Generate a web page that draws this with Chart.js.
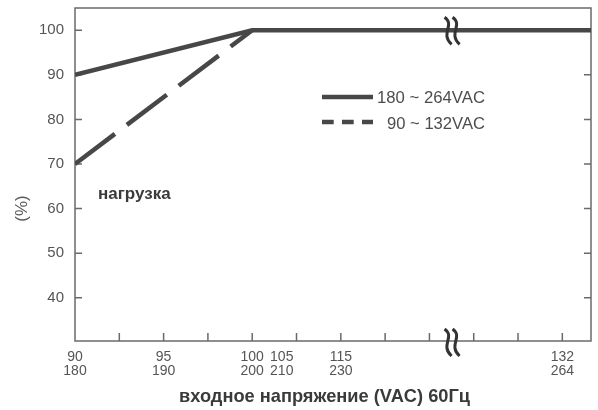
<!DOCTYPE html>
<html>
<head>
<meta charset="utf-8">
<script src="https://cdn.jsdelivr.net/npm/chart.js@4.4.1/dist/chart.umd.min.js"></script>
<style>
  html, body { margin: 0; padding: 0; background: #fff; }
  #wrap { width: 598px; height: 410px; }
</style>
</head>
<body>
<div id="wrap"><canvas id="chart" width="598" height="410"></canvas></div>
<script>
// broken x axis: volts -> position in tick steps
const axisVolts = [90, 95, 100, 115, 132];
const axisSteps = [0, 2, 4, 6, 11];
const xEndVolt = 134.2;
const breakVolt = 123.5;
const tickMarkSteps = [1, 2, 3, 4, 5, 6, 7, 8, 9, 10, 11];

const labelVolts = [90, 95, 100, 105, 115, 132];
const labelsLow = ['90', '95', '100', '105', '115', '132'];
const labelsHigh = ['180', '190', '200', '210', '230', '264'];
const yTicks = [40, 50, 60, 70, 80, 90, 100];

// derating curves
const highVolts = [90, 100, xEndVolt];
const highLoad = [90, 100, 100];
const lowVolts = [90, 100];
const lowLoad = [70, 100];

const voltPos = (v) => {
  let i = 0;
  while (i < axisVolts.length - 2 && v > axisVolts[i + 1]) i += 1;
  const t = (v - axisVolts[i]) / (axisVolts[i + 1] - axisVolts[i]);
  return axisSteps[i] + t * (axisSteps[i + 1] - axisSteps[i]);
};

const lineColor = '#474747';
const frameColor = '#6a6a6a';

const decorPlugin = {
  id: 'decor',
  beforeDatasetsDraw(chart) {
    const { ctx, chartArea: a, scales } = chart;
    ctx.save();
    ctx.strokeStyle = frameColor;
    ctx.lineWidth = 1.5;
    ctx.strokeRect(a.left, a.top, a.right - a.left, a.bottom - a.top);
    // inward tick marks
    ctx.beginPath();
    tickMarkSteps.forEach((s) => {
      const x = scales.x.getPixelForValue(s);
      ctx.moveTo(x, a.bottom);
      ctx.lineTo(x, a.bottom - 8);
    });
    yTicks.forEach((v) => {
      const y = scales.y.getPixelForValue(v);
      ctx.moveTo(a.left, y);
      ctx.lineTo(a.left + 7, y);
      ctx.moveTo(a.right, y);
      ctx.lineTo(a.right - 7, y);
    });
    ctx.stroke();
    ctx.restore();
  },
  afterDraw(chart) {
    const { ctx, chartArea: a, scales } = chart;
    const ds = chart.data.datasets;
    ctx.save();

    // axis break marks
    const bx = scales.x.getPixelForValue(voltPos(breakVolt));
    const drawBreak = (cy) => {
      ctx.strokeStyle = '#333';
      ctx.lineWidth = 3;
      [-4, 4].forEach((dx) => {
        const x = bx + dx;
        ctx.beginPath();
        ctx.moveTo(x - 3, cy - 13);
        ctx.bezierCurveTo(x + 8, cy - 5, x - 8, cy + 3, x + 4, cy + 14);
        ctx.stroke();
      });
    };
    drawBreak(scales.y.getPixelForValue(100));
    drawBreak(a.bottom + 1);

    // legend
    const lx0 = 322;
    const lx1 = 373;
    ctx.lineCap = 'butt';
    ctx.strokeStyle = ds[0].borderColor;
    ctx.lineWidth = 4.5;
    ctx.beginPath();
    ctx.moveTo(lx0, 97);
    ctx.lineTo(lx1, 97);
    ctx.stroke();
    ctx.setLineDash([11.7, 8.3]);
    ctx.beginPath();
    ctx.moveTo(lx0, 122);
    ctx.lineTo(lx1, 122);
    ctx.stroke();
    ctx.setLineDash([]);

    ctx.fillStyle = '#4d4d4d';
    ctx.font = '17px "Liberation Sans", Arial, sans-serif';
    ctx.textAlign = 'right';
    ctx.textBaseline = 'alphabetic';
    ctx.fillText(ds[0].label, 485, 103, 108);
    ctx.fillText(ds[1].label, 485, 128.5, 98);

    // titles
    ctx.fillStyle = '#3a3a3a';
    ctx.textAlign = 'left';
    ctx.font = 'bold 17px "Liberation Sans", Arial, sans-serif';
    ctx.fillText('нагрузка', 98, 199, 75);

    ctx.textAlign = 'center';
    ctx.font = 'bold 19px "Liberation Sans", Arial, sans-serif';
    ctx.fillText('входное напряжение (VAC) 60Гц', 324.5, 401.5, 291);

    ctx.fillStyle = '#5a5a5a';
    ctx.font = '17px "Liberation Sans", Arial, sans-serif';
    ctx.translate(22, 208.5);
    ctx.rotate(-Math.PI / 2);
    ctx.textBaseline = 'middle';
    ctx.fillText('(%)', 0, 0, 27);
    ctx.restore();
  },
};

const canvas = document.getElementById('chart');
new Chart(canvas, {
  type: 'line',
  data: {
    datasets: [
      {
        label: '180 ~ 264VAC',
        data: highVolts.map((v, i) => ({ x: voltPos(v), y: highLoad[i] })),
        borderColor: lineColor,
        borderWidth: 4.5,
        pointRadius: 0,
        tension: 0,
        borderJoinStyle: 'miter',
      },
      {
        label: '90 ~ 132VAC',
        data: lowVolts.map((v, i) => ({ x: voltPos(v), y: lowLoad[i] })),
        borderColor: lineColor,
        borderWidth: 4.5,
        borderDash: [50, 15],
        pointRadius: 0,
        tension: 0,
      },
    ],
  },
  options: {
    responsive: false,
    animation: false,
    events: [],
    layout: { padding: { top: 8, right: 7, left: 0, bottom: 0 } },
    plugins: { legend: { display: false }, tooltip: { enabled: false } },
    scales: {
      x: {
        type: 'linear',
        min: 0,
        max: voltPos(xEndVolt),
        grid: { display: false, drawTicks: false },
        border: { display: false },
        afterBuildTicks: (scale) => {
          scale.ticks = labelVolts.map((v) => ({ value: voltPos(v) }));
        },
        afterFit: (scale) => {
          scale.height = 69;
          scale.paddingLeft = 0;
          scale.paddingRight = 0;
        },
        ticks: {
          autoSkip: false,
          maxRotation: 0,
          padding: 9,
          color: '#555',
          font: { family: '"Liberation Sans", Arial, sans-serif', size: 14, lineHeight: 1 },
          callback: (value, index) => [labelsLow[index], labelsHigh[index]],
        },
      },
      y: {
        type: 'linear',
        min: 30.3,
        max: 105,
        grid: { display: false, drawTicks: false },
        border: { display: false },
        afterBuildTicks: (scale) => {
          scale.ticks = yTicks.map((v) => ({ value: v }));
        },
        afterFit: (scale) => {
          scale.width = 75;
          scale.paddingTop = 0;
          scale.paddingBottom = 0;
        },
        ticks: {
          padding: 11,
          color: '#555',
          font: { family: '"Liberation Sans Narrow", "Liberation Sans", Arial, sans-serif', size: 15 },
          callback: (value) => value,
        },
      },
    },
  },
  plugins: [decorPlugin],
});
</script>
</body>
</html>
